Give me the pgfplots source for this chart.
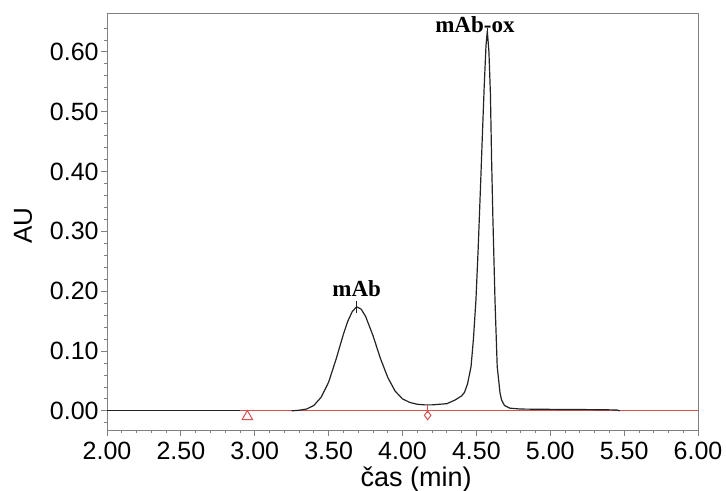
\documentclass[border=0pt]{standalone}
\usepackage{pgfplots}
\pgfplotsset{compat=1.18}
\usepackage{fontspec}
\setmainfont{Liberation Sans}
\newfontfamily\timesfont{Liberation Serif}
\definecolor{basered}{RGB}{214,80,80}
\definecolor{axgray}{RGB}{128,128,128}
\definecolor{curve}{RGB}{35,35,35}
\begin{document}
\begin{tikzpicture}
\path[use as bounding box] (-53.5pt,-30.5pt) rectangle (309.5pt,215pt);
\begin{axis}[
  scale only axis,
  width=295.5pt, height=208.5pt,
  xmin=2, xmax=6, ymin=-0.032, ymax=0.665,
  clip=false,
  axis line style={axgray},
  xtick={2,2.5,...,6},
  ytick={0,0.1,0.2,0.3,0.4,0.5,0.6},
  minor xtick={2.1,2.2,2.3,2.4,2.6,2.7,2.8,2.9,3.1,3.2,3.3,3.4,3.6,3.7,3.8,3.9,4.1,4.2,4.3,4.4,4.6,4.7,4.8,4.9,5.1,5.2,5.3,5.4,5.6,5.7,5.8,5.9},
  minor ytick={-0.02,0.02,0.04,0.06,0.08,0.12,0.14,0.16,0.18,0.22,0.24,0.26,0.28,0.32,0.34,0.36,0.38,0.42,0.44,0.46,0.48,0.52,0.54,0.56,0.58,0.62,0.64},
  xtick pos=bottom, ytick pos=left,
  tick align=outside,
  major tick length=3pt, minor tick length=1.5pt,
  every tick/.style={axgray},
  tick label style={font=\fontsize{12.5}{14}\selectfont, text=black},
  /pgf/number format/assume math mode=true,
  /pgf/number format/fixed,
  /pgf/number format/fixed zerofill,
  /pgf/number format/precision=2,
  yticklabel style={inner sep=1pt},
  xticklabel style={inner sep=0pt, yshift=-3pt},
  scaled ticks=false,
  xlabel={čas (min)},
  xlabel style={font=\fontsize{13.5}{15}\selectfont, inner sep=0pt, at={(axis description cs:0.523,-0.118)}, anchor=center},
  ylabel={AU},
  ylabel style={font=\fontsize{13}{15}\selectfont, at={(axis description cs:-0.142,0.49)}, anchor=center},
]
% red baseline
\addplot[basered, line width=0.5pt] coordinates {(2.9,0) (6.0,0)};
% black chromatogram
\addplot[curve, line width=0.6pt] coordinates {(2.0,0) (2.9,0)};
\addplot[curve, line width=0.6pt] coordinates {
(3.25,0) (3.30,0.001) (3.35,0.003) (3.40,0.009) (3.45,0.023) (3.50,0.048)
(3.55,0.086) (3.60,0.128) (3.63,0.150) (3.66,0.166) (3.69,0.174) (3.72,0.170) (3.75,0.158)
(3.80,0.126) (3.85,0.088) (3.90,0.056) (3.95,0.033) (4.00,0.020) (4.05,0.014)
(4.10,0.011) (4.15,0.010) (4.20,0.010) (4.25,0.011) (4.30,0.012) (4.355,0.018)
(4.40,0.025) (4.42,0.031) (4.44,0.045) (4.464,0.074) (4.48,0.12) (4.497,0.185)
(4.512,0.27) (4.528,0.375) (4.542,0.47) (4.553,0.542) (4.565,0.61) (4.574,0.635)
(4.585,0.60) (4.595,0.53) (4.603,0.42) (4.612,0.32) (4.626,0.185) (4.641,0.074)
(4.66,0.03) (4.671,0.018) (4.69,0.009) (4.727,0.0045) (4.80,0.003) (5.00,0.0025)
(5.30,0.002) (5.45,0.0015) (5.47,0.0)
};
% peak apex ticks
\addplot[curve, line width=0.5pt] coordinates {(3.69,0.163) (3.69,0.183)};
\addplot[curve, line width=0.5pt] coordinates {(4.575,0.624) (4.575,0.640)};
% valley drop line and integration markers
\addplot[basered, line width=0.5pt] coordinates {(4.17,0.010) (4.17,-0.003)};
\addplot[basered, only marks, mark=diamond, mark size=2.2pt, mark options={line width=0.5pt}] coordinates {(4.17,-0.0075)};
\addplot[basered, only marks, mark=triangle, mark size=3pt, mark options={line width=0.5pt}] coordinates {(2.95,-0.0095)};
% peak labels
\node[font=\timesfont\bfseries\fontsize{11.5}{13}\selectfont] at (axis cs:3.69,0.205) {mAb};
\node[font=\timesfont\bfseries\fontsize{11.5}{13}\selectfont] at (axis cs:4.49,0.646) {mAb-ox};
\end{axis}
\end{tikzpicture}
\end{document}
